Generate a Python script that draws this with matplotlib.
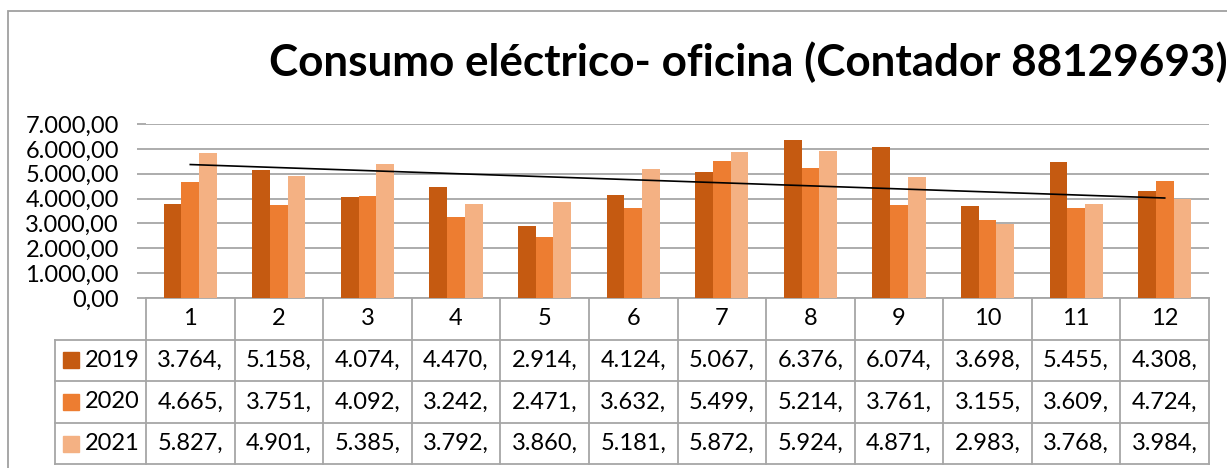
import numpy as np
import matplotlib
matplotlib.use("Agg")
import matplotlib.pyplot as plt
from matplotlib.patches import Rectangle
from matplotlib.ticker import FuncFormatter
from matplotlib.transforms import blended_transform_factory

plt.rcParams['font.family'] = ['Lato', 'DejaVu Sans']

"""data"""
months = [1, 2, 3, 4, 5, 6, 7, 8, 9, 10, 11, 12]
years = ['2019', '2020', '2021']
consumo_2019 = [3764, 5158, 4074, 4470, 2914, 4124, 5067, 6376, 6074, 3698, 5455, 4308]
consumo_2020 = [4665, 3751, 4092, 3242, 2471, 3632, 5499, 5214, 3761, 3155, 3609, 4724]
consumo_2021 = [5827, 4901, 5385, 3792, 3860, 5181, 5872, 5924, 4871, 2983, 3768, 3984]
series = [consumo_2019, consumo_2020, consumo_2021]
colors = ['#C55A11', '#ED7D31', '#F4B183']
title = 'Consumo eléctrico- oficina (Contador 88129693)'

W, H = 1227, 468
GRID = '#A6A6A6'


def es_num(v, dec=2):
    s = f"{v:,.{dec}f}"
    return s.replace(',', 'X').replace('.', ',').replace('X', '.')


fig = plt.figure(figsize=(W / 100, H / 100), dpi=100)

# chart border (cut by the crop on the right and bottom)
fig.patches.append(Rectangle((8 / W, -0.1), 1.2, 1.1 - 11 / H, transform=fig.transFigure,
                             fill=False, edgecolor='#A0A0A0', linewidth=1.3))

ax = fig.add_axes([146 / W, 1 - 298 / H, (1209 - 146) / W, 174 / H])

x = np.array(months)
bw = 0.2
for i, (vals, c) in enumerate(zip(series, colors)):
    ax.bar(x + (i - 1) * bw, vals, width=bw, color=c, zorder=3)

# linear trend of 2021
k, b = np.polyfit(x, consumo_2021, 1)
ax.plot([x[0], x[-1]], [k * x[0] + b, k * x[-1] + b], color='black', linewidth=1.2, zorder=4)

ax.set_xlim(0.5, 12.5)
ax.set_ylim(0, 7000)
ax.set_yticks(np.arange(0, 7001, 1000))
ax.yaxis.set_major_formatter(FuncFormatter(lambda v, p: es_num(v)))
ax.set_xticks([])
ax.grid(axis='y', color=GRID, linewidth=1.3, zorder=0)
for s in ['top', 'right', 'left']:
    ax.spines[s].set_visible(False)
ax.spines['bottom'].set_color(GRID)
ax.spines['bottom'].set_linewidth(1.3)
ax.tick_params(axis='y', length=6.5, width=1.3, color=GRID, pad=13, labelsize=17)

# data table below the plot
tr = blended_transform_factory(ax.transData, ax.transAxes)
row_h = 41.6 / 174
left = 0.5 - (146 - 54.5) / 88.6
bottom = -4 * row_h
for xb in np.arange(0.5, 13.0, 1.0):
    ax.plot([xb, xb], [0, bottom], transform=tr, color=GRID, linewidth=1.3, clip_on=False)
ax.plot([left, left], [-row_h, bottom], transform=tr, color=GRID, linewidth=1.3, clip_on=False)
for r in range(1, 5):
    ax.plot([left, 12.5], [-r * row_h, -r * row_h], transform=tr, color=GRID,
            linewidth=1.3, clip_on=False)

for m in months:
    ax.text(m, -0.5 * row_h, str(m), transform=tr, ha='center', va='center', fontsize=17)

key_x = 0.5 + (70.7 - 146) / 88.6
lab_x = 0.5 + (85 - 146) / 88.6
for r, (yr, vals, c) in enumerate(zip(years, series, colors)):
    yc = -(r + 1.5) * row_h
    ax.plot([key_x], [yc], transform=tr, marker='s', markersize=11.5, color=c,
            linestyle='none', clip_on=False)
    ax.text(lab_x, yc, yr, transform=tr, ha='left', va='center', fontsize=17)
    for m, v in zip(months, vals):
        ax.text(m, yc, es_num(v, 0) + ',', transform=tr, ha='center', va='center', fontsize=17)

fig.text(748.5 / W, 1 - 62 / H, title, ha='center', va='center', fontsize=31.7, fontweight='bold')

fig.savefig('out.png', dpi=100)
